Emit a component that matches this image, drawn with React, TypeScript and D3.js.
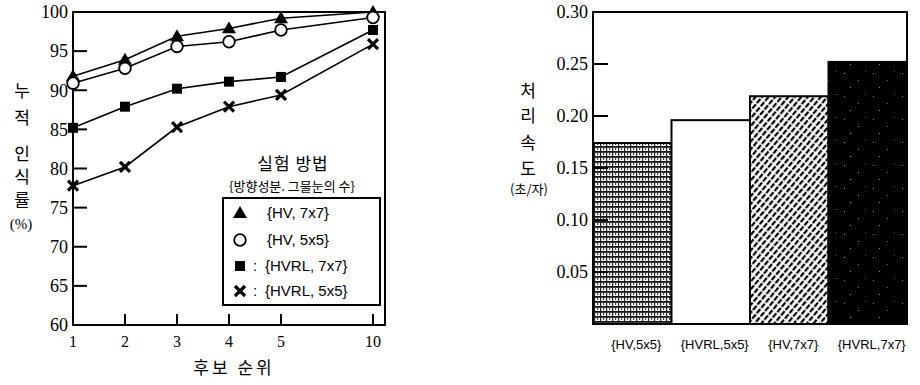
import React from "react";
import * as d3 from "d3";

const ranks = [1, 2, 3, 4, 5, 10];
const rankTicks = [1, 2, 3, 4, 5, 10];
const accTicks = [60, 65, 70, 75, 80, 85, 90, 95, 100];
const hv7 = [91.8, 93.9, 96.9, 97.9, 99.2, 100];
const hv5 = [90.9, 92.8, 95.6, 96.2, 97.7, 99.3];
const hvrl7 = [85.2, 87.9, 90.2, 91.1, 91.7, 97.7];
const hvrl5 = [77.8, 80.2, 85.3, 87.9, 89.4, 95.9];
const seriesNames = ["{HV, 7x7}", "{HV, 5x5}", "{HVRL, 7x7}", "{HVRL, 5x5}"];
const seriesMarkers = ["triangle", "circle", "square", "cross"];

const methods = ["{HV,5x5}", "{HVRL,5x5}", "{HV,7x7}", "{HVRL,7x7}"];
const speeds = [0.174, 0.196, 0.219, 0.252];
const speedTicks = [0.05, 0.1, 0.15, 0.2, 0.25, 0.3];
const barFills = ["url(#pDense)", "#ffffff", "url(#pHatch)", "url(#pDark)"];

const serif = "'Liberation Serif', 'DejaVu Serif', serif";
const sans = "'Liberation Sans', Arial, sans-serif";
const kr = "'Noto Sans CJK KR', sans-serif";

function Marker({ type, x, y }: { type: string; x: number; y: number }) {
  if (type === "triangle") {
    const s = 7;
    return <path d={`M${x},${y - s}L${x + s},${y + s * 0.7}L${x - s},${y + s * 0.7}Z`} fill="#000" />;
  }
  if (type === "circle") return <circle cx={x} cy={y} r={5.8} fill="#fff" stroke="#000" strokeWidth={1.8} />;
  if (type === "square") return <rect x={x - 5} y={y - 5} width={10} height={10} fill="#000" />;
  const s = 5;
  return (
    <g stroke="#000" strokeWidth={3.2}>
      <line x1={x - s} y1={y - s} x2={x + s} y2={y + s} />
      <line x1={x - s} y1={y + s} x2={x + s} y2={y - s} />
    </g>
  );
}

export default function App() {
  // Left chart
  const L = { left: 73, right: 385, top: 12, bottom: 325 };
  const x = d3.scaleLinear().domain([1, 5, 10]).range([73, 281, 373]);
  const y = d3.scaleLinear().domain([60, 100]).range([L.bottom, L.top]);
  const line = d3.line<number>().x((_, i) => x(ranks[i])).y((d) => y(d));
  const allSeries = [hv7, hv5, hvrl7, hvrl5];

  // Right chart
  const R = { left: 593, right: 907, top: 12, bottom: 324 };
  const xb = d3.scaleBand().domain(methods).range([R.left, R.right]).padding(0);
  const yb = d3.scaleLinear().domain([0, 0.3]).range([R.bottom, R.top]);

  const leftTitle = ["누", "적", "인", "식", "률"];
  const leftTitleY = [91, 118, 154, 177, 200];
  const rightTitle = ["처", "리", "속", "도"];
  const rightTitleY = [91, 116, 143, 169];

  const legendY = [213, 240, 266, 291];

  return (
    <svg width={920} height={385} style={{ position: "absolute", left: 0, top: 0, background: "#fff" }}>
      <defs>
        <pattern id="pDense" width="6" height="5" patternUnits="userSpaceOnUse">
          <rect width="6" height="5" fill="#fff" />
          <rect x="0" y="1" width="6" height="1.8" fill="#111" />
          <rect x="0" y="0" width="1.2" height="5" fill="#222" />
          <rect x="3" y="2.5" width="1.2" height="2.5" fill="#444" />
        </pattern>
        <pattern id="pHatch" width="5" height="7" patternUnits="userSpaceOnUse" patternTransform="rotate(40)">
          <rect width="5" height="7" fill="#fff" />
          <rect x="0" y="0" width="2.2" height="5.5" fill="#000" />
        </pattern>
        <pattern id="pDark" width="29" height="23" patternUnits="userSpaceOnUse">
          <rect width="29" height="23" fill="#000" />
          <rect x="3" y="4" width="1" height="1" fill="#777" />
          <rect x="17" y="11" width="1" height="1" fill="#666" />
          <rect x="9" y="18" width="1" height="1" fill="#888" />
          <rect x="24" y="2" width="1" height="1" fill="#555" />
        </pattern>
      </defs>

      {/* ===== Left chart ===== */}
      <rect x={L.left} y={L.top} width={L.right - L.left} height={L.bottom - L.top} fill="none" stroke="#000" strokeWidth={2} />
      {accTicks.map((t) => (
        <g key={t}>
          {t !== 60 && t !== 100 && <line x1={L.left} x2={L.left + 14} y1={y(t)} y2={y(t)} stroke="#000" strokeWidth={2} />}
          <text x={L.left - 5} y={y(t)} dy="0.35em" textAnchor="end" fontFamily={serif} fontSize={18}>{t}</text>
        </g>
      ))}
      {rankTicks.map((t) => (
        <g key={t}>
          {t !== 1 && <line x1={x(t)} x2={x(t)} y1={L.bottom} y2={L.bottom - 11} stroke="#000" strokeWidth={2} />}
          <text x={x(t)} y={347} textAnchor="middle" fontFamily={serif} fontSize={16}>{t}</text>
        </g>
      ))}
      <text x={234} y={374} textAnchor="middle" fontFamily={kr} fontSize={17} letterSpacing={3}>후보 순위</text>
      {leftTitle.map((c, i) => (
        <text key={c} x={22} y={leftTitleY[i]} dy="0.35em" textAnchor="middle" fontFamily={kr} fontSize={17}>{c}</text>
      ))}
      <text x={21} y={224} dy="0.35em" textAnchor="middle" fontFamily={serif} fontSize={15}>(%)</text>

      {allSeries.map((s, si) => (
        <g key={si}>
          <path d={line(s) || ""} fill="none" stroke="#000" strokeWidth={1.6} />
          {s.map((v, i) => (
            <Marker key={i} type={seriesMarkers[si]} x={x(ranks[i])} y={y(v)} />
          ))}
        </g>
      ))}

      <text x={293} y={164} dy="0.35em" textAnchor="middle" fontFamily={kr} fontSize={17} letterSpacing={1}>실험 방법</text>
      <text x={292} y={186} dy="0.35em" textAnchor="middle" fontFamily={kr} fontSize={13}>{"{방향성분. 그물눈의 수}"}</text>
      <rect x={223} y={198} width={157} height={107} fill="#fff" stroke="#000" strokeWidth={2} />
      {seriesNames.map((n, i) => (
        <g key={n}>
          <Marker type={seriesMarkers[i]} x={240} y={legendY[i]} />
          {i >= 2 && <text x={253} y={legendY[i]} dy="0.35em" fontFamily={sans} fontSize={15}>:</text>}
          <text x={i >= 2 ? 265 : 267} y={legendY[i]} dy="0.35em" fontFamily={sans} fontSize={15}>{n}</text>
        </g>
      ))}

      {/* ===== Right chart ===== */}
      {methods.map((m, i) => (
        <rect key={m} x={xb(m)} y={yb(speeds[i])} width={xb.bandwidth()} height={R.bottom - yb(speeds[i])}
          fill={barFills[i]} stroke="#000" strokeWidth={2} />
      ))}
      <path d={`M${R.left},${R.bottom}V${R.top}H${R.right}V${R.bottom}H${R.left}`} fill="none" stroke="#000" strokeWidth={2} />
      {speedTicks.map((t) => (
        <g key={t}>
          {t < 0.3 && <line x1={R.left} x2={R.left + 15} y1={yb(t)} y2={yb(t)} stroke="#000" strokeWidth={2} />}
          <text x={R.left - 5} y={yb(t)} dy="0.35em" textAnchor="end" fontFamily={serif} fontSize={18}>{t.toFixed(2)}</text>
        </g>
      ))}
      {methods.map((m) => (
        <text key={m} x={(xb(m) || 0) + xb.bandwidth() / 2 + 4} y={349} textAnchor="middle" fontFamily={sans} fontSize={13}>{m}</text>
      ))}
      {rightTitle.map((c, i) => (
        <text key={c} x={528} y={rightTitleY[i]} dy="0.35em" textAnchor="middle" fontFamily={kr} fontSize={17}>{c}</text>
      ))}
      <text x={529} y={189} dy="0.35em" textAnchor="middle" fontFamily={kr} fontSize={13}>(초/자)</text>
    </svg>
  );
}
